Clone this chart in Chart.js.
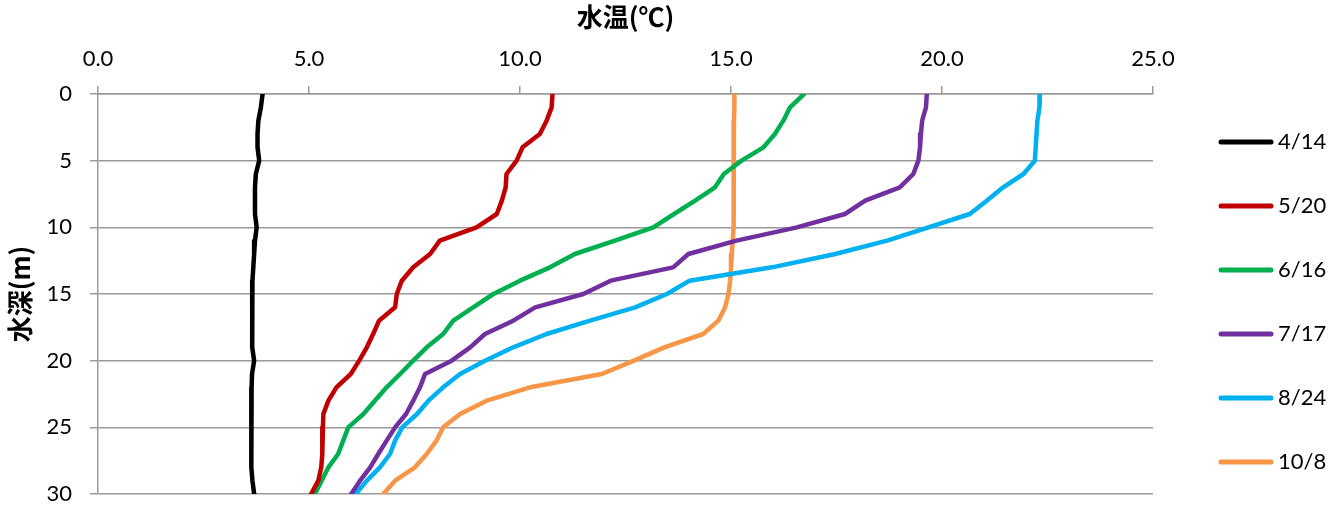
<!DOCTYPE html>
<html>
<head>
<meta charset="utf-8">
<script src="https://cdn.jsdelivr.net/npm/chart.js@4.4.0/dist/chart.umd.min.js"></script>
<style>
    html, body { margin: 0; padding: 0; background: #fff; }
</style>
</head>
<body>
<canvas id="tempChart" width="1343" height="508"></canvas>
<script>
const tempChart = document.getElementById('tempChart');

// depth (m) and water temperature per survey date
const depths = [0, 1, 2, 3, 4, 5, 6, 7, 8, 9, 10, 11, 12, 13, 14, 15, 16, 17, 18, 19, 20, 21, 22, 23, 24, 25, 26, 27, 28, 29, 30];
const t0414 = [3.90, 3.86, 3.80, 3.78, 3.78, 3.82, 3.74, 3.72, 3.72, 3.72, 3.76, 3.72, 3.70, 3.68, 3.66, 3.66, 3.65, 3.65, 3.65, 3.66, 3.70, 3.65, 3.64, 3.64, 3.63, 3.63, 3.63, 3.63, 3.64, 3.66, 3.70];
const t0520 = [10.77, 10.75, 10.63, 10.47, 10.06, 9.92, 9.68, 9.66, 9.57, 9.45, 8.97, 8.10, 7.87, 7.47, 7.20, 7.08, 7.04, 6.66, 6.52, 6.37, 6.19, 5.99, 5.65, 5.46, 5.34, 5.33, 5.32, 5.31, 5.29, 5.22, 5.05];
const t0616 = [16.73, 16.40, 16.24, 16.04, 15.77, 15.25, 14.83, 14.62, 14.15, 13.65, 13.16, 12.25, 11.30, 10.71, 10.00, 9.37, 8.89, 8.42, 8.18, 7.79, 7.47, 7.16, 6.84, 6.56, 6.29, 5.93, 5.81, 5.69, 5.46, 5.30, 5.14];
const t0717 = [19.64, 19.62, 19.53, 19.50, 19.48, 19.44, 19.32, 19.00, 18.18, 17.70, 16.56, 15.13, 13.99, 13.63, 12.15, 11.50, 10.36, 9.84, 9.17, 8.82, 8.38, 7.75, 7.63, 7.47, 7.30, 7.04, 6.84, 6.64, 6.45, 6.21, 6.00];
const t0824 = [22.32, 22.31, 22.26, 22.24, 22.22, 22.20, 21.93, 21.45, 21.06, 20.66, 19.68, 18.70, 17.47, 15.97, 14.02, 13.48, 12.73, 11.66, 10.63, 9.84, 9.17, 8.58, 8.18, 7.83, 7.56, 7.21, 7.04, 6.92, 6.68, 6.37, 6.11];
const t1008 = [15.08, 15.08, 15.07, 15.07, 15.07, 15.06, 15.06, 15.06, 15.06, 15.06, 15.06, 15.04, 15.02, 15.00, 14.98, 14.94, 14.86, 14.70, 14.34, 13.42, 12.70, 11.94, 10.24, 9.21, 8.58, 8.18, 8.02, 7.79, 7.51, 7.04, 6.76];

const dates = ['4/14', '5/20', '6/16', '7/17', '8/24', '10/8'];
const series = [t0414, t0520, t0616, t0717, t0824, t1008];
const colors = ['#000000', '#c00000', '#00b050', '#7030a0', '#00b0f0', '#f79646'];

const tempTicks = [0, 5, 10, 15, 20, 25];
const depthTicks = [0, 5, 10, 15, 20, 25, 30];

const tickFont = { family: 'Lato', size: 22 };
const titleFont = { family: 'Noto Sans CJK JP', size: 26, weight: 'bold' };
const gridColor = '#9a9a9a';

// legend at the right, one line + label per date
const sideLegend = {
    id: 'sideLegend',
    afterDraw(chart) {
        const ctx = chart.ctx;
        const x0 = chart.chartArea.right + 68;
        chart.data.datasets.forEach((ds, i) => {
            const y = 142 + i * 64;
            ctx.save();
            ctx.strokeStyle = ds.borderColor;
            ctx.lineWidth = 5;
            ctx.lineCap = 'round';
            ctx.beginPath();
            ctx.moveTo(x0, y);
            ctx.lineTo(x0 + 50, y);
            ctx.stroke();
            ctx.fillStyle = '#000';
            ctx.font = '22px Lato';
            ctx.textBaseline = 'middle';
            ctx.fillText(ds.label, x0 + 57, y);
            ctx.restore();
        });
    }
};

var chart = new Chart(tempChart, {
    type: 'scatter',
    data: {
        datasets: series.map((temps, i) => ({
            label: dates[i],
            data: temps.map((t, j) => ({ x: t, y: depths[j] })),
            showLine: true,
            borderColor: colors[i],
            backgroundColor: colors[i],
            borderWidth: 4.5,
            borderJoinStyle: 'round',
            borderCapStyle: 'round',
            pointRadius: 0,
            tension: 0,
        })),
    },
    options: {
        responsive: false,
        animation: false,
        layout: {
            padding: { left: 0, right: 190, top: 0, bottom: 14 }
        },
        plugins: {
            legend: { display: false },
            tooltip: { enabled: false },
        },
        scales: {
            x: {
                type: 'linear',
                position: 'top',
                min: 0,
                max: 25,
                afterBuildTicks: (s) => { s.ticks = tempTicks.map(v => ({ value: v })); },
                afterFit: (s) => { s.height = 94; },
                ticks: {
                    callback: (v) => v.toFixed(1),
                    font: tickFont,
                    color: '#000',
                    padding: 14,
                    maxRotation: 0,
                },
                grid: {
                    drawOnChartArea: false,
                    drawTicks: true,
                    tickLength: 8,
                    color: gridColor,
                    lineWidth: 1.5,
                },
                border: { color: gridColor, width: 1.5 },
                title: {
                    display: true,
                    text: '水温(℃)',
                    font: titleFont,
                    color: '#000',
                    padding: { top: 2, bottom: 0 },
                },
            },
            y: {
                type: 'linear',
                reverse: true,
                min: 0,
                max: 30,
                afterBuildTicks: (s) => { s.ticks = depthTicks.map(v => ({ value: v })); },
                afterFit: (s) => {
                    s.width = 98;
                    // tick padding is horizontal here, don't let it eat vertical room
                    s.paddingTop = 13;
                    s.paddingBottom = 13;
                },
                ticks: {
                    font: tickFont,
                    color: '#000',
                    padding: 18,
                },
                grid: {
                    drawTicks: true,
                    tickLength: 8,
                    color: gridColor,
                    lineWidth: 1.5,
                },
                border: { color: gridColor, width: 1.5 },
                title: {
                    display: true,
                    text: '水深(m)',
                    font: titleFont,
                    color: '#000',
                    padding: { top: 5, bottom: 0 },
                },
            },
        },
    },
    plugins: [sideLegend],
});
</script>
</body>
</html>
